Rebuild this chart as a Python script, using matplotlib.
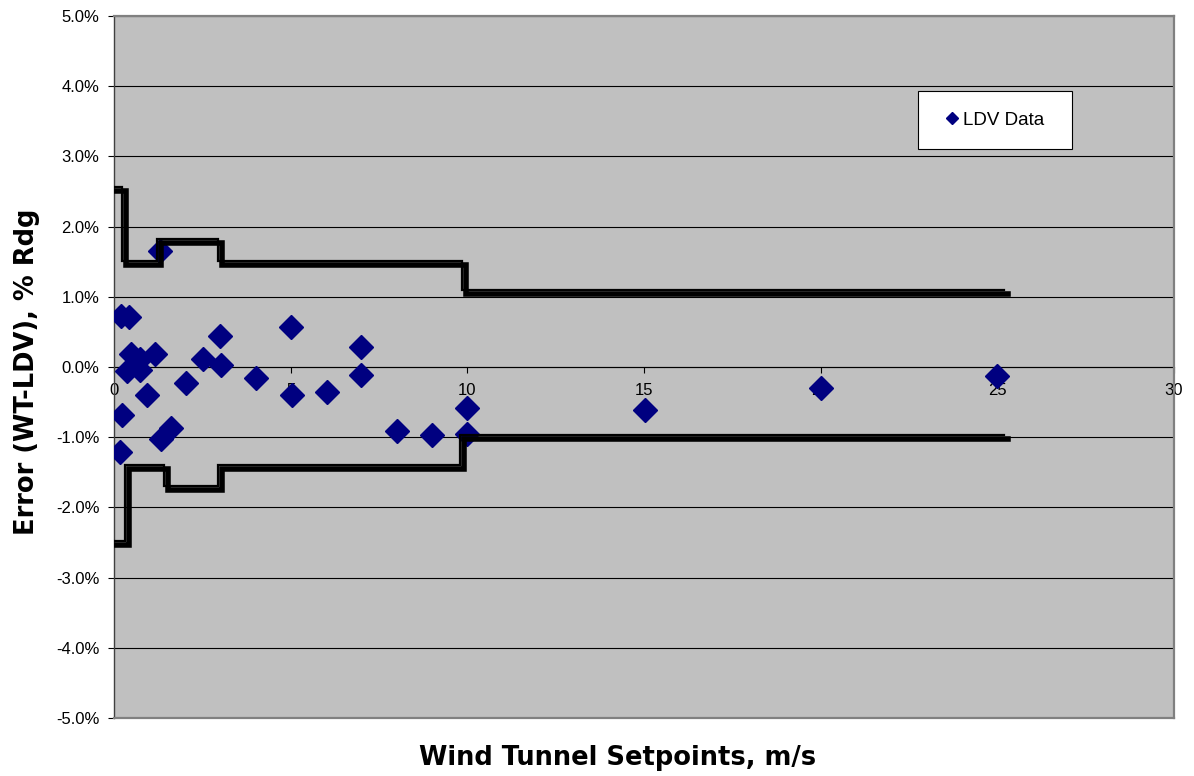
import matplotlib
matplotlib.use("Agg")
import matplotlib.pyplot as plt
import matplotlib.transforms as mtransforms
from matplotlib.patches import Rectangle
from matplotlib.ticker import FuncFormatter, MultipleLocator

plt.rcParams['font.family'] = ['Liberation Sans', 'DejaVu Sans']

# LDV scatter data (x: wind tunnel setpoint m/s, y: error %)
ldv_x = [0.2, 0.42, 0.49, 0.73, 1.15, 0.38, 0.73, 0.93, 2.05, 0.23,
         1.34, 1.6, 0.16, 1.3, 2.53, 3.0, 3.03, 4.03, 5.0, 5.03,
         6.02, 7.0, 7.0, 8.0, 9.0, 10.0, 10.0, 15.03, 20.0, 25.0]
ldv_y = [0.72, 0.71, 0.19, 0.12, 0.19, -0.05, -0.04, -0.40, -0.23, -0.68,
         -1.02, -0.87, -1.21, 1.65, 0.12, 0.44, 0.03, -0.15, 0.57, -0.40,
         -0.35, 0.28, -0.12, -0.91, -0.97, -0.59, -0.95, -0.61, -0.30, -0.13]

# Uncertainty limit step lines (edges and level in each interval)
upper_edges = [0.0, 0.33, 1.33, 3.05, 9.97, 25.3]
upper_levels = [2.51, 1.45, 1.76, 1.45, 1.04]
lower_edges = [0.0, 0.42, 1.54, 3.05, 9.9, 25.3]
lower_levels = [-2.53, -1.46, -1.75, -1.46, -1.02]

x_ticks = [0, 5, 10, 15, 20, 25, 30]

W, H = 1194, 776


def step_xy(edges, levels):
    xs, ys = [], []
    for i, lv in enumerate(levels):
        xs += [edges[i], edges[i + 1]]
        ys += [lv, lv]
    return xs, ys


fig = plt.figure(figsize=(W / 100, H / 100), dpi=100)
ax_l, ax_r, ax_t, ax_b = 114, 1174, 16, 718
ax = fig.add_axes([ax_l / W, 1 - ax_b / H, (ax_r - ax_l) / W, (ax_b - ax_t) / H])
ax.set_facecolor('#c0c0c0')

ax.set_xlim(0, 30)
ax.set_ylim(-5, 5)

# gridlines
ax.yaxis.set_major_locator(MultipleLocator(1))
ax.grid(axis='y', color='black', linewidth=0.8, zorder=1)
ax.set_axisbelow(True)

# scatter
ax.plot(ldv_x, ldv_y, linestyle='none', marker='D', markersize=12,
        color='#000080', markeredgecolor='#000080', label='LDV Data', zorder=3)

# limit lines (double-line look)
offset = mtransforms.offset_copy(ax.transData, fig=fig, x=-4.0, y=4.0, units='dots')
for edges, levels in [(upper_edges, upper_levels), (lower_edges, lower_levels)]:
    xs, ys = step_xy(edges, levels)
    ax.plot(xs, ys, color='black', linewidth=4.0, solid_joinstyle='miter',
            zorder=4)
    ax.plot(xs, ys, color='black', linewidth=1.6, solid_joinstyle='miter',
            transform=offset, zorder=4)

# spines
for s in ['top', 'right']:
    ax.spines[s].set_color('#808080')
    ax.spines[s].set_linewidth(1.6)
ax.spines['left'].set_color('#404040')
ax.spines['left'].set_linewidth(1.0)
ax.spines['bottom'].set_position(('data', 0))
ax.spines['bottom'].set_color('black')
ax.spines['bottom'].set_linewidth(0.8)
ax.spines['bottom'].set_zorder(1.5)

# bottom border of the plot area
ax.plot([0, 1], [0, 0], transform=ax.transAxes, color='#808080',
        linewidth=1.6, clip_on=False, zorder=5)

ax.set_xticks(x_ticks)
ax.xaxis.set_major_formatter(FuncFormatter(lambda v, p: f"{int(v)}"))
ax.yaxis.set_major_formatter(FuncFormatter(lambda v, p: f"{v:.1f}%"))
ax.tick_params(axis='x', direction='out', length=4.5, width=0.8, pad=7,
               labelsize=12, colors='black')
ax.tick_params(axis='y', direction='out', length=4.5, width=0.8, pad=6,
               labelsize=12, colors='black')

label_font = dict(fontsize=18.5, fontweight='bold', family=['DejaVu Sans'])
fig.text(27 / W, 1 - 372 / H, 'Error (WT-LDV), % Rdg', rotation=90,
         ha='center', va='center', **label_font)
fig.text(618 / W, 1 - 758 / H, 'Wind Tunnel Setpoints, m/s',
         ha='center', va='center', **label_font)

# legend box
lx0, lx1, ly0, ly1 = 918, 1072, 91, 149
to_ax = lambda px, py: ((px - ax_l) / (ax_r - ax_l), (ax_b - py) / (ax_b - ax_t))
bx, by = to_ax(lx0, ly1)
bw = (lx1 - lx0) / (ax_r - ax_l)
bh = (ly1 - ly0) / (ax_b - ax_t)
ax.add_patch(Rectangle((bx, by), bw, bh, transform=ax.transAxes,
                       facecolor='white', edgecolor='black', linewidth=0.8,
                       zorder=6, clip_on=False))
leg = ax.legend(loc='center', bbox_to_anchor=(bx + bw / 2, by + bh / 2),
                fontsize=13.5, frameon=False, borderpad=0,
                handlelength=0.7, handletextpad=0.25, markerscale=0.55,
                borderaxespad=0)
leg.set_zorder(7)

fig.savefig('out.png', dpi=100, facecolor='white')
